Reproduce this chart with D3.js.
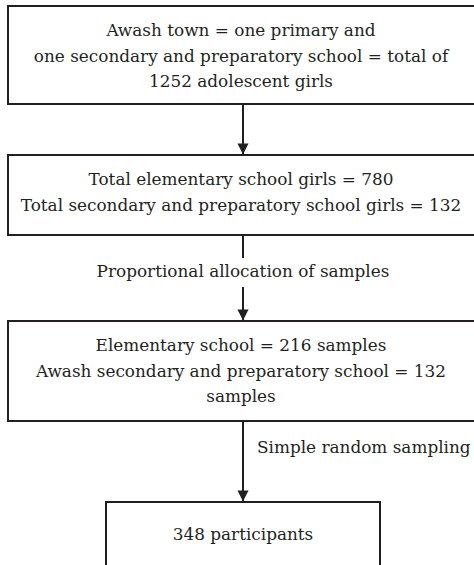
<!DOCTYPE html>
<html>
<head>
<meta charset="utf-8">
<script src="https://cdn.jsdelivr.net/npm/d3@7"></script>
<style>
  body { margin: 0; background: #fff; }
</style>
</head>
<body>
<div id="chart"></div>
<script>
// Box contents, top to bottom
var boxLines = [
  ["Awash town = one primary and", "one secondary and preparatory school = total of", "1252 adolescent girls"],
  ["Total elementary school girls = 780", "Total secondary and preparatory school girls = 132"],
  ["Elementary school = 216 samples", "Awash secondary and preparatory school = 132", "samples"],
  ["348 participants"]
];
// Labels on the connectors between boxes
var stepLabels = ["", "Proportional allocation of samples", "Simple random sampling"];

var width = 474, height = 565;
var ink = "#231f20";
var font = "'DejaVu Serif', serif";

// Layout of each box (pixels)
var boxTop = [6, 155, 321, 502];
var boxBottom = [104, 235, 421, 600];
var boxLeft = [8, 8, 8, 106];
var boxRight = [480, 480, 480, 380];
var cx = 243;
var lineGap = 25.5;

var svg = d3.select("#chart").append("svg")
  .attr("width", width)
  .attr("height", height);

// size the font so the widest line spans about the same as in the source
var probe = svg.append("text").attr("font-family", font).attr("font-size", 20)
  .text(boxLines[1][1]);
var fontSize = 20 * 441 / probe.node().getComputedTextLength();
probe.remove();

svg.append("defs").append("marker")
  .attr("id", "arrow")
  .attr("viewBox", "0 0 12 13")
  .attr("refX", 12)
  .attr("refY", 6)
  .attr("markerWidth", 13)
  .attr("markerHeight", 12)
  .attr("markerUnits", "userSpaceOnUse")
  .attr("orient", "auto")
  .append("path")
  .attr("d", "M0,0 L12,6 L0,12 Z")
  .attr("fill", ink);

function label(x, y, anchor, txt) {
  return svg.append("text")
    .attr("x", x).attr("y", y)
    .attr("text-anchor", anchor)
    .attr("font-family", font)
    .attr("font-size", fontSize)
    .attr("fill", ink)
    .text(txt);
}

// connectors
for (var i = 0; i < boxLines.length - 1; i++) {
  var y1 = boxBottom[i], y2 = boxTop[i + 1];
  if (i === 1) {
    // label sits in a gap of the line
    svg.append("line").attr("x1", cx).attr("x2", cx).attr("y1", y1).attr("y2", 258)
      .attr("stroke", ink).attr("stroke-width", 2);
    svg.append("line").attr("x1", cx).attr("x2", cx).attr("y1", 287).attr("y2", y2 - 0.5)
      .attr("stroke", ink).attr("stroke-width", 2).attr("marker-end", "url(#arrow)");
    label(cx, 277, "middle", stepLabels[i]);
  } else {
    svg.append("line").attr("x1", cx).attr("x2", cx).attr("y1", y1).attr("y2", y2 - 0.5)
      .attr("stroke", ink).attr("stroke-width", 2).attr("marker-end", "url(#arrow)");
    if (stepLabels[i]) label(257, 453, "start", stepLabels[i]);
  }
}

// boxes
boxLines.forEach(function(lines, i) {
  svg.append("rect")
    .attr("x", boxLeft[i])
    .attr("y", boxTop[i])
    .attr("width", boxRight[i] - boxLeft[i])
    .attr("height", boxBottom[i] - boxTop[i])
    .attr("fill", "none")
    .attr("stroke", ink)
    .attr("stroke-width", 2);

  var firstBase = i === 3 ? 540 : boxTop[i] + 30;
  var mid = i === 3 ? (boxLeft[i] + boxRight[i]) / 2 : 241;
  lines.forEach(function(d, j) {
    label(mid, firstBase + j * lineGap, "middle", d);
  });
});
</script>
</body>
</html>
